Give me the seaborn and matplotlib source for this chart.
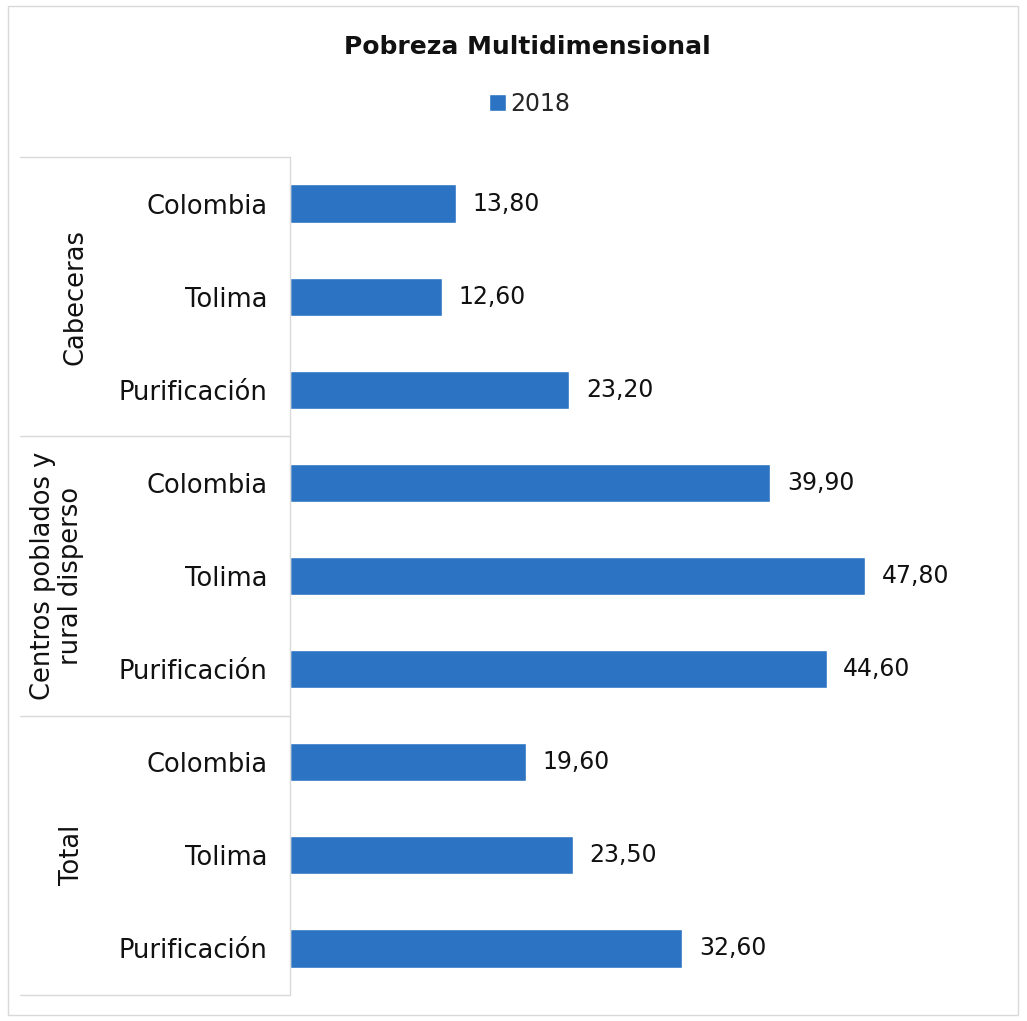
import pandas as pd
import matplotlib.pyplot as plt
import seaborn as sns
from matplotlib.transforms import blended_transform_factory
from matplotlib.patches import Rectangle

# Pobreza multidimensional 2018
groups = ["Cabeceras", "Centros poblados y\nrural disperso", "Total"]
places = ["Colombia", "Tolima", "Purificación"]
cabeceras = [13.80, 12.60, 23.20]
centros = [39.90, 47.80, 44.60]
total = [19.60, 23.50, 32.60]
year = "2018"

BLUE = "#2C73C4"
GRID = "#d9d9d9"
W, H = 1027, 1021
FS = 17
FS_LAB = 18.5

rows = []
for g, vals in zip(groups, [cabeceras, centros, total]):
    for p, v in zip(places, vals):
        rows.append({"row": f"{g}|{p}", "place": p, "value": v, "year": year})
df = pd.DataFrame(rows)

sns.set_style("white")
plt.rcParams["font.family"] = ["DejaVu Sans"]

fig = plt.figure(figsize=(W / 100, H / 100), dpi=100)
ax = fig.add_axes([290 / W, 1 - 995 / H, (1012 - 290) / W, (995 - 157) / H])

sns.barplot(
    data=df, y="row", x="value", hue="year", orient="h",
    palette=[BLUE], width=0.41, ax=ax, errorbar=None, saturation=1,
)
ax.set_xlim(0, 60)
ax.set_ylim(len(df) - 0.5, -0.5)
ax.set_xlabel("")
ax.set_ylabel("")
ax.set_xticks([])
ax.set_yticks(range(len(df)))
ax.set_yticklabels(df["place"], fontsize=FS_LAB, color="#111111")
ax.tick_params(axis="y", length=0, pad=16)
for s in ["top", "right", "bottom", "left"]:
    ax.spines[s].set_visible(False)

# etiquetas de valor con coma decimal
for c in ax.containers:
    ax.bar_label(c, labels=[f"{v:.2f}".replace(".", ",") for v in c.datavalues],
                 padding=12, fontsize=FS, color="#111111")

# cuadro de categorias
tr = blended_transform_factory(fig.transFigure, ax.transData)
for yb in [-0.5, 2.5, 5.5, 8.5]:
    ax.plot([20 / W, 290 / W], [yb, yb], transform=tr, color=GRID, lw=1, clip_on=False)
ax.plot([290 / W, 290 / W], [-0.5, 8.5], transform=tr, color=GRID, lw=1, clip_on=False)

label_x = [75, 57, 72]
for i, g in enumerate(groups):
    ax.text(label_x[i] / W, 3 * i + 1, g, transform=tr, rotation=90,
            ha="center", va="center", fontsize=FS_LAB, color="#111111",
            multialignment="center", linespacing=1.1)

# titulo y leyenda
fig.text(527 / W, 1 - 47 / H, "Pobreza Multidimensional", ha="center", va="center",
         fontsize=18, fontweight="bold", color="#111111")
sns.move_legend(ax, "center", bbox_to_anchor=(530 / W, 1 - 104 / H),
                bbox_transform=fig.transFigure, frameon=False, title=None,
                fontsize=FS, handlelength=0.7, handleheight=0.7, handletextpad=0.2)

# borde del area del grafico
fig.patches.append(Rectangle((8 / W, 6 / H), (1018 - 8) / W, (1015 - 6) / H,
                             transform=fig.transFigure, fill=False,
                             edgecolor=GRID, lw=1))

fig.savefig("out.png", dpi=100, facecolor="white")
